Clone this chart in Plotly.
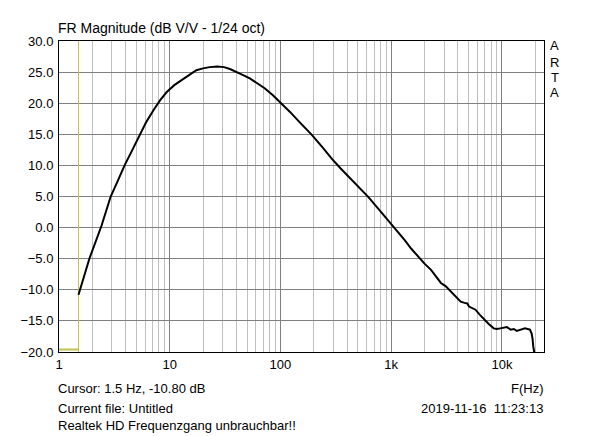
import plotly.graph_objects as go
import numpy as np

freq_hz = [1.5, 1.88, 2.42, 2.93, 3.45, 3.91, 4.6, 5.25, 6.1, 7.15,
           8.2, 9.4, 11.0, 12.8, 15.0, 17.4, 20.0, 23.0, 27.0, 31.0, 35.0, 39.6, 45.0,
           52.9, 58.0, 65.0, 72.0, 85.0, 100, 122, 148, 192, 240, 293, 350, 413, 510, 623,
           760, 940, 1120, 1325, 1520, 1741, 2000, 2290, 2550, 2812, 3100, 3452, 3800,
           4244, 4600, 4873, 5050, 5400, 5776, 6300, 6860, 7600, 8430, 9000, 9660,
           10300, 11090, 12000, 12800, 13620, 14800, 16150, 17100, 17900, 18530,
           18900, 19190, 19500, 19800]
mag_db = [-10.8, -5.0, 0.3, 5.0, 7.8, 10.0, 12.5, 14.6, 16.9, 18.9,
          20.5, 21.8, 22.9, 23.7, 24.6, 25.3, 25.6, 25.8, 25.9, 25.8, 25.5, 25.1, 24.6,
          24.0, 23.5, 23.0, 22.4, 21.3, 20.1, 18.6, 17.0, 14.9, 12.9, 11.0, 9.5, 8.2, 6.6, 4.9,
          3.1, 1.2, -0.4, -2.0, -3.4, -4.6, -5.8, -6.8, -8.0, -8.9, -9.4, -10.3, -11.0,
          -11.9, -12.1, -12.2, -12.7, -12.9, -13.2, -14.0, -14.7, -15.5, -16.2, -16.3,
          -16.2, -16.1, -16.0, -16.4, -16.3, -16.6, -16.4, -16.2, -16.3, -16.4, -17.0,
          -17.8, -19.1, -20.0, -20.5]

x_ticks = [1, 10, 100, 1000, 10000]
x_tick_text = ["1", "10", "100", "1k", "10k"]
x_minor = [m * d for d in [1, 10, 100, 1000, 10000] for m in range(2, 10)]
y_ticks = [-20, -15, -10, -5, 0, 5, 10, 15, 20, 25, 30]

cursor_freq = 1.5
cursor_db = -10.80
cursor_floor_db = -19.6
f_min, f_max = 1, 24000
db_min, db_max = -20, 30

font = "Arial, Liberation Sans, sans-serif"
cursor_col = "#c2c24e"

fig = go.Figure()
fig.add_trace(go.Scatter(x=[cursor_freq, cursor_freq], y=[db_min, db_max], mode="lines",
                         line=dict(color=cursor_col, width=1), hoverinfo="skip"))
fig.add_trace(go.Scatter(x=[f_min, cursor_freq], y=[cursor_floor_db, cursor_floor_db],
                         mode="lines", line=dict(color=cursor_col, width=2), hoverinfo="skip"))
fig.add_trace(go.Scatter(x=freq_hz, y=mag_db, mode="lines",
                         line=dict(color="black", width=2)))

fig.update_xaxes(type="log", range=[np.log10(f_min), np.log10(f_max)],
                 tickvals=x_ticks, ticktext=x_tick_text,
                 showgrid=True, gridcolor="#808080", gridwidth=1,
                 minor=dict(tickvals=x_minor, showgrid=True, gridcolor="#c0c0c0", gridwidth=1),
                 showline=True, linecolor="black", linewidth=1, mirror=True,
                 ticks="", zeroline=False, tickfont=dict(size=13, color="black"))
fig.update_yaxes(range=[db_min, db_max], tickvals=y_ticks, tickformat=".1f",
                 showgrid=True, gridcolor="#808080", gridwidth=1,
                 showline=True, linecolor="black", linewidth=1, mirror=True,
                 ticks="", zeroline=False, ticklabelstandoff=2,
                 tickfont=dict(size=13, color="black"))

# page pixel -> paper coords (page has 8px body margin)
H = 311.0
def py(px):
    return (352 - px) / H

ann = [
    dict(text="FR Magnitude (dB V/V - 1/24 oct)", x=0, y=py(28), xanchor="left",
         xshift=-3, size=14),
    dict(text="Cursor: %.1f Hz, %.2f dB" % (cursor_freq, cursor_db), x=0, y=py(388),
         xanchor="left", xshift=-3),
    dict(text="Current file: Untitled", x=0, y=py(408), xanchor="left", xshift=-3),
    dict(text="Realtek HD Frequenzgang unbrauchbar!!", x=0, y=py(425), xanchor="left",
         xshift=-3),
    dict(text="F(Hz)", x=1, y=py(388), xanchor="right", xshift=2),
    dict(text="2019-11-16&nbsp;&nbsp;11:23:13", x=1, y=py(408), xanchor="right", xshift=1),
]
for i, ch in enumerate("ARTA"):
    ann.append(dict(text=ch, x=(555 - 57) / 487.0, y=py([46, 62, 77.5, 92][i]),
                    xanchor="center"))
for a in ann:
    size = a.pop("size", 13)
    a.update(xref="paper", yref="paper", yanchor="middle", showarrow=False,
             font=dict(size=size, color="black", family=font))
fig.update_layout(annotations=ann)

fig.update_layout(width=592, height=428, showlegend=False,
                  margin=dict(l=49, r=56, t=33, b=84),
                  paper_bgcolor="white", plot_bgcolor="white",
                  font=dict(family=font, size=13, color="black"))

fig.write_html("out.html")
